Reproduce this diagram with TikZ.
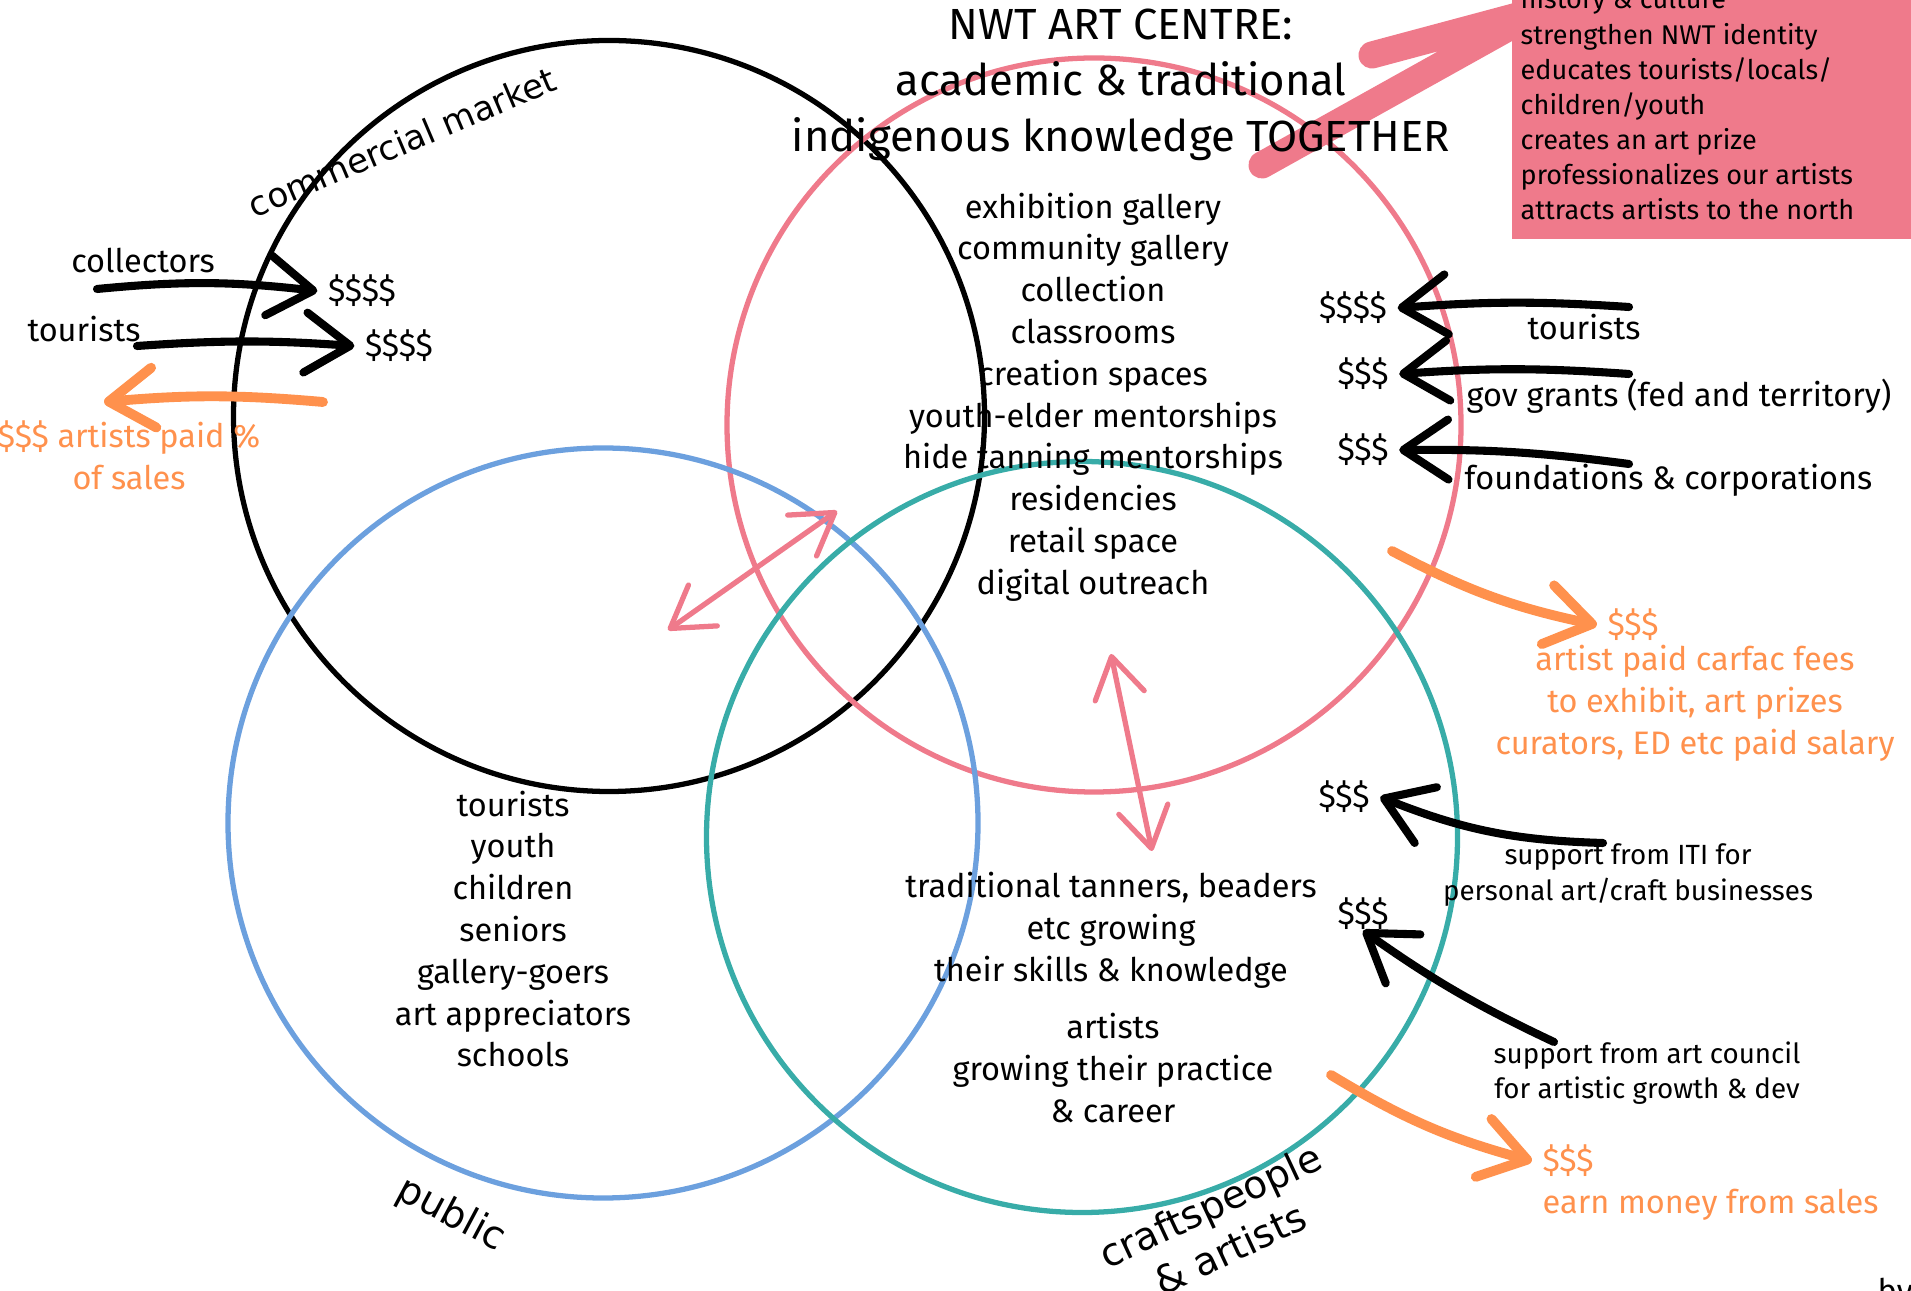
\documentclass[tikz,border=0pt]{standalone}
\usepackage{fontspec}
\setmainfont{Fira Sans}
\newfontfamily\labelfont{DejaVu Sans}
\usetikzlibrary{arrows.meta}
\definecolor{venpink}{RGB}{239,122,139}
\definecolor{venblue}{RGB}{108,160,222}
\definecolor{venteal}{RGB}{56,172,168}
\definecolor{venorange}{RGB}{255,145,77}
\tikzset{
  ring/.style={draw, circle, line width=1.5pt, inner sep=0pt},
  txt/.style={align=center, inner sep=0pt, font=\fontsize{9.25}{11.9}\selectfont},
  smalltxt/.style={align=center, inner sep=0pt, font=\fontsize{7.9}{10}\selectfont},
  cash/.style={txt, inner xsep=1mm},
  lbl/.style={align=center, inner sep=0pt, font=\labelfont\fontsize{11}{13.5}\selectfont},
  money/.style={line width=2.3pt, line cap=round, -{Straight Barb[length=4.5mm,width=6mm,round]}},
  pay/.style={money, draw=venorange, line width=2.8pt},
  twoway/.style={line width=1.5pt, draw=venpink, line cap=round,
    {Straight Barb[length=4mm,width=5mm,round]}-{Straight Barb[length=4mm,width=5mm,round]}},
}

\begin{document}
\begin{tikzpicture}
    \path[use as bounding box, clip] (0,0) rectangle (19.11,12.9);
    \node(M)[ring, minimum size=7.51cm] at (6.09,8.74) {};
    \node(A)[ring, draw=venpink, minimum size=7.34cm] at (10.94,8.65) {};
    \node(P)[ring, draw=venblue, minimum size=7.50cm] at (6.03,4.67) {};
    \node(C)[ring, draw=venteal, minimum size=7.51cm] at (10.82,4.53) {};

    \coordinate(pa) at (12.62,11.25);
    \coordinate(pt) at (15.40,12.80);
    \coordinate(pb) at (13.72,12.35);
    \draw[venpink, line width=7.7pt, line cap=round, line join=round] (pa) -- (pt) (pb) -- (pt);

    \node(T)[align=center, inner sep=0pt, font=\fontsize{12.4}{15.9}\selectfont] at (11.21,12.05)
        {NWT ART CENTRE:\\academic \& traditional\\indigenous knowledge TOGETHER};
    \node(B)[fill=venpink, inner sep=0pt, anchor=south west, minimum width=4.2cm, minimum height=2.6cm] at (15.11,10.50) {};
    \node(G)[anchor=west, align=left, inner sep=0pt, font=\fontsize{7.7}{10}\selectfont] at (15.20,11.86)
        {history \& culture\\strengthen NWT identity\\educates tourists/locals/\\children/youth\\creates an art prize\\professionalizes our artists\\attracts artists to the north};

    \node(L)[txt] at (10.93,8.93) {exhibition gallery\\community gallery\\collection\\classrooms\\creation spaces\\youth-elder mentorships\\hide tanning mentorships\\residencies\\retail space\\digital outreach};
    \node(U)[txt] at (5.13,3.61) {tourists\\youth\\children\\seniors\\gallery-goers\\art appreciators\\schools};
    \node(K1)[txt] at (11.11,3.60) {traditional tanners, beaders\\etc growing\\their skills \& knowledge};
    \node(K2)[txt] at (11.13,2.22) {artists\\growing their practice\\\& career};

    \node(col)[txt] at (1.43,10.29) {collectors};
    \node(tl)[txt] at (0.84,9.61) {tourists};
    \node(d1)[cash] at (3.62,9.99) {\$\$\$\$};
    \node(d2)[cash] at (3.99,9.44) {\$\$\$\$};
    \coordinate(c1) at (0.97,10.01);
    \coordinate(c2) at (1.37,9.44);
    \draw[money] (c1) to[bend left=6] (d1.west);
    \draw[money] (c2) to[bend left=4] (d2.west);
    \node(o0)[txt, text=venorange] at (1.29,8.35) {\$\$\$ artists paid \%\\of sales};
    \coordinate(q0) at (3.23,8.88);
    \coordinate(q0e) at (1.04,8.88);
    \draw[pay] (q0) to[bend right=5] (q0e);

    \node(r1)[cash] at (13.53,9.82) {\$\$\$\$};
    \node(r2)[cash] at (13.63,9.16) {\$\$\$};
    \node(r3)[cash] at (13.63,8.40) {\$\$\$};
    \coordinate(s1) at (16.29,9.83);
    \coordinate(s2) at (16.29,9.16);
    \coordinate(s3) at (16.29,8.26);
    \draw[money] (s1) to[bend right=4] (r1.east);
    \draw[money] (s2) to[bend right=4] (r2.east);
    \draw[money] (s3) to[bend right=4] (r3.east);
    \node(rt)[txt] at (15.84,9.63) {tourists};
    \node(rg)[txt, anchor=west] at (14.66,8.94) {gov grants (fed and territory)};
    \node(rf)[txt, anchor=west] at (14.64,8.10) {foundations \& corporations};

    \node(o1)[cash, text=venorange] at (16.33,6.65) {\$\$\$};
    \coordinate(q1) at (13.92,7.39);
    \draw[pay] (q1) to[bend right=8] (o1.west);
    \node(o2)[txt, text=venorange] at (16.95,5.87) {artist paid carfac fees\\to exhibit, art prizes\\curators, ED etc paid salary};

    \node(i1)[cash] at (13.44,4.93) {\$\$\$};
    \coordinate(s4) at (16.03,4.47);
    \draw[money] (s4) to[bend left=10] (i1.east);
    \node(i2)[smalltxt] at (16.28,4.15) {support from ITI for\\personal art/craft businesses};

    \node(a1)[cash] at (13.63,3.76) {\$\$\$};
    \coordinate(s5) at (15.54,2.48);
    \draw[money] (s5) to[bend left=5] (a1.south);
    \node(a2)[smalltxt] at (16.47,2.17) {support from art council\\for artistic growth \& dev};

    \node(e1)[cash, text=venorange] at (15.68,1.29) {\$\$\$};
    \coordinate(q2) at (13.31,2.15);
    \draw[pay] (q2) to[bend right=8] (e1.west);
    \node(e2)[txt, text=venorange, anchor=west] at (15.42,0.85) {earn money from sales};

    \coordinate(w1) at (6.68,6.60);
    \coordinate(w2) at (8.37,7.79);
    \coordinate(w3) at (11.11,6.36);
    \coordinate(w4) at (11.52,4.39);
    \draw[twoway] (w1) -- (w2);
    \draw[twoway] (w3) -- (w4);

    \node(lm)[lbl, rotate=23, font=\labelfont\fontsize{9.7}{12}\selectfont] at (4.02,11.48) {commercial market};
    \node(lp)[lbl, rotate=-28] at (4.51,0.75) {public};
    \node(lc)[lbl, rotate=25] at (12.20,0.63) {craftspeople\\\& artists};
    \node(by)[txt, anchor=north west] at (18.77,0.13) {by};
\end{tikzpicture}
\end{document}
